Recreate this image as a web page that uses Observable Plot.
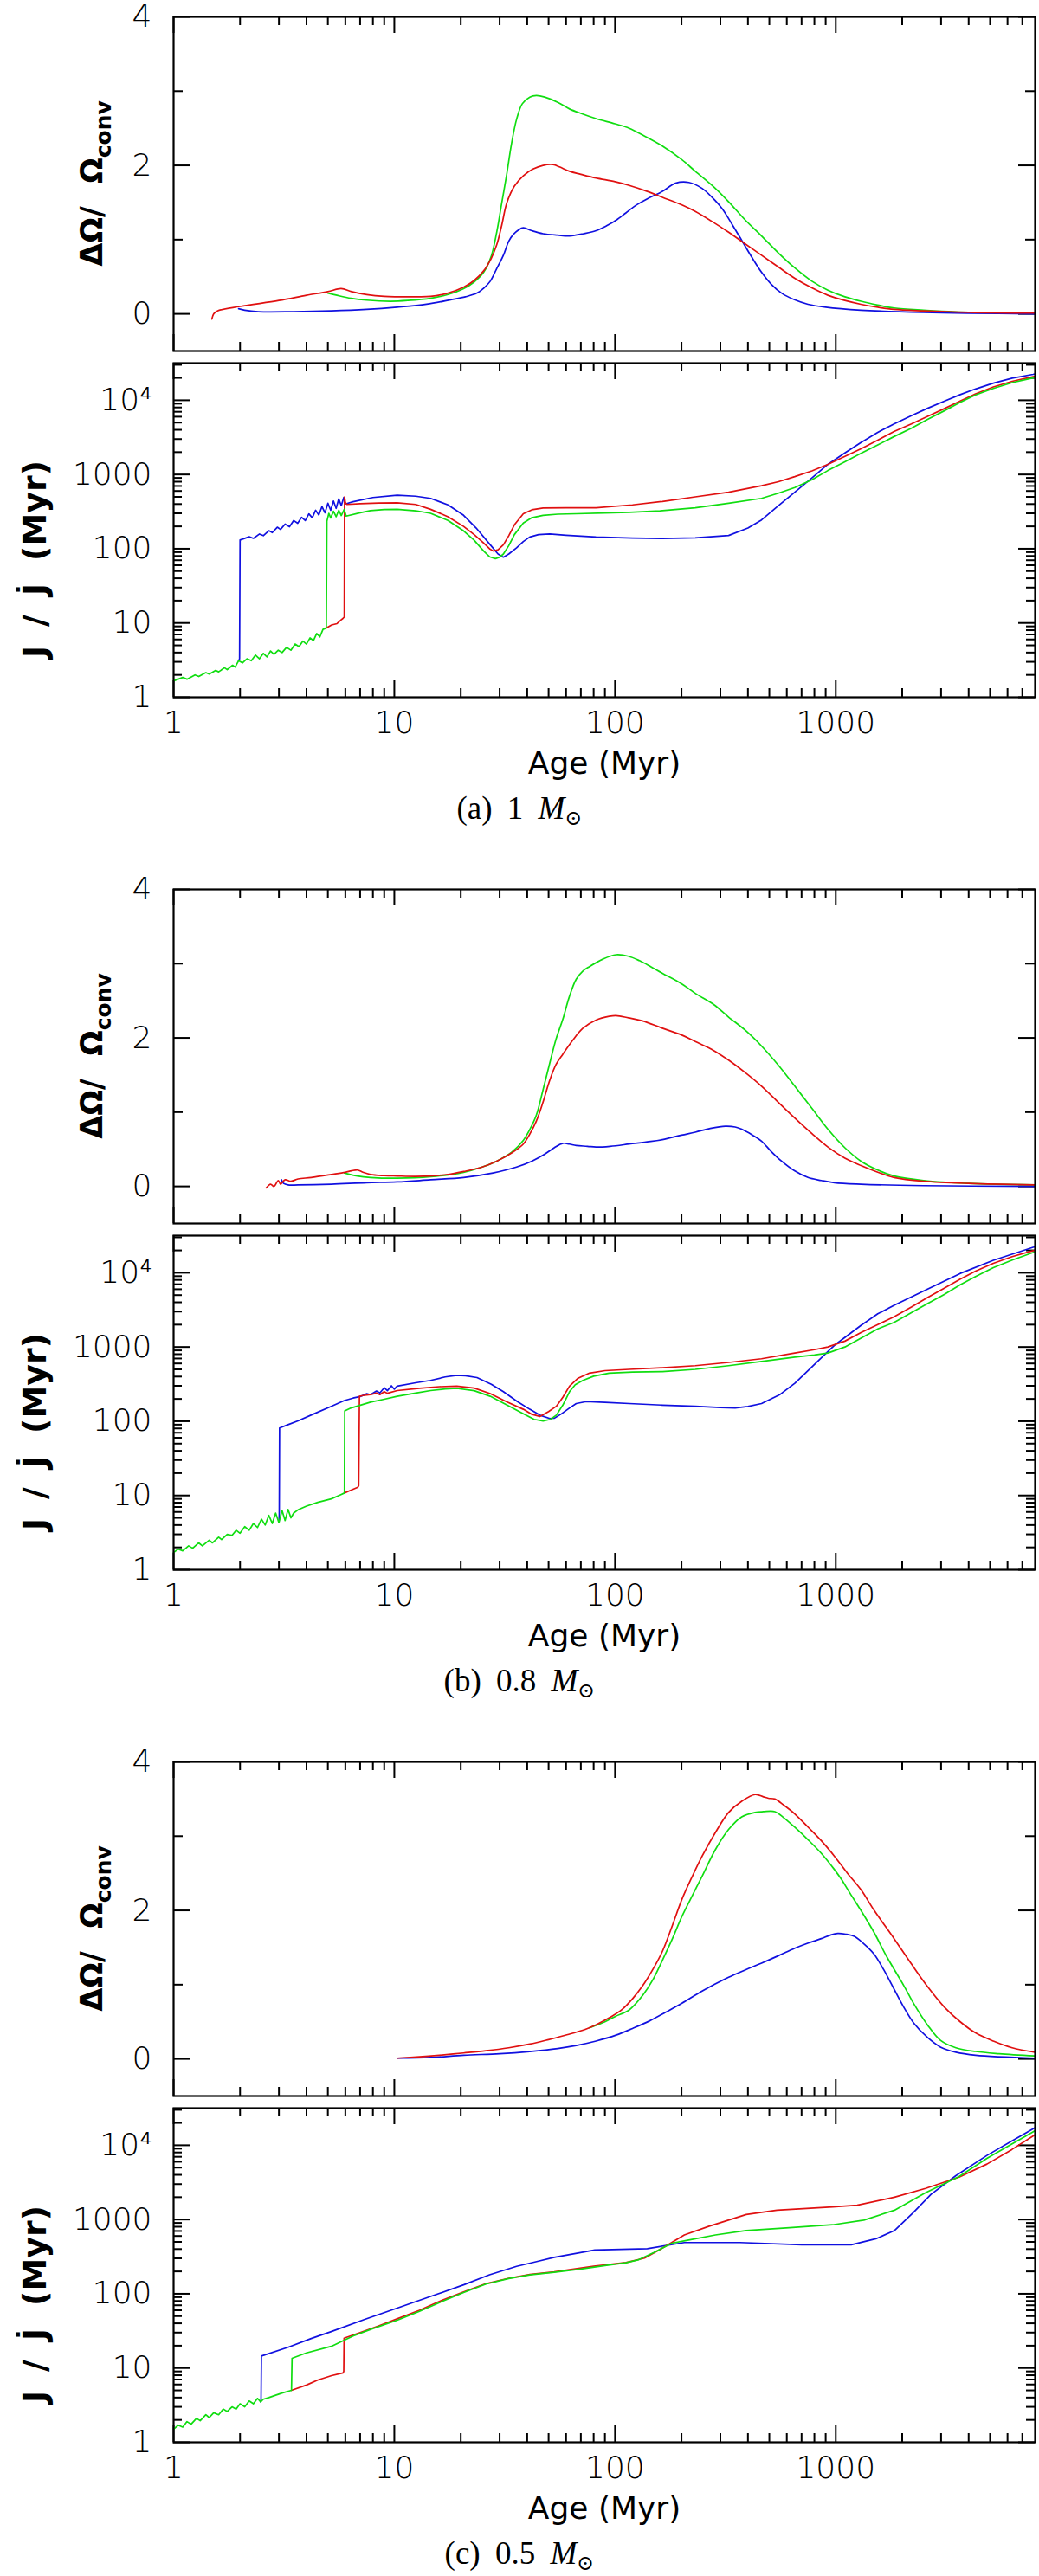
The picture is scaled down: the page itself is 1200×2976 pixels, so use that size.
<!DOCTYPE html>
<html>
<head>
<meta charset="utf-8">
<script src="https://cdn.jsdelivr.net/npm/d3@7"></script>
<script src="https://cdn.jsdelivr.net/npm/@observablehq/plot@0.6"></script>
<style>
  body { margin: 0; background: #fff; width: 1200px; }
  .caption {
    height: 103px; box-sizing: border-box; padding-top: 10px;
    text-align: center; color: #000;
    font-family: "Liberation Serif", "DejaVu Serif", serif;
    font-size: 37px; line-height: 37px; word-spacing: 8px;
  }
  .caption sub { font-size: 24px; vertical-align: -7px; line-height: 0; }
</style>
</head>
<body>
<div id="chart"></div>
<script>
// tick positions and labels
const xMajor = [1, 10, 100, 1000];
const xMinor = [2, 3, 4, 5, 6, 7, 8, 9, 20, 30, 40, 50, 60, 70, 80, 90,
  200, 300, 400, 500, 600, 700, 800, 900, 2000, 3000, 4000, 5000, 6000, 7000];
const xLabels = ["1", "10", "100", "1000"];
const dwMajor = [0, 2, 4];
const dwMinor = [1, 3];
const dwLabels = ["0", "2", "4"];
const jMajor = [1, 10, 100, 1000, 10000];
const jMinor = [2, 3, 4, 5, 6, 7, 8, 9, 20, 30, 40, 50, 60, 70, 80, 90,
  200, 300, 400, 500, 600, 700, 800, 900, 2000, 3000, 4000, 5000, 6000, 7000, 8000, 9000, 20000, 30000];
const jLabels = ["1", "10", "100", "1000", "10⁴"];
const captions = ["(a) 1", "(b) 0.8", "(c) 0.5"];

// (a) 1 Msun : [age Myr, dOmega/Omega_conv]
const aDwRed = [[1.49,-0.07],[1.52,0.0],[1.58,0.04],[2.0,0.1],[3.0,0.18],[4.0,0.25],[5.0,0.30],[5.74,0.34],[6.4,0.30],[7.5,0.26],[9,0.235],[10.3,0.23],[12.5,0.23],[14.6,0.235],[17.5,0.28],[20.6,0.36],[23,0.45],[25.4,0.58],[27.5,0.75],[29.1,0.93],[30.7,1.2],[32.3,1.49],[35,1.72],[38.4,1.86],[42.5,1.95],[47.2,2.0],[52.4,2.01],[56,1.98],[62.2,1.92],[70,1.88],[82,1.83],[100,1.78],[116,1.73],[140,1.65],[164,1.57],[200,1.47],[231,1.38],[280,1.23],[327,1.10],[390,0.94],[461,0.79],[550,0.63],[652,0.48],[780,0.35],[921,0.25],[1100,0.18],[1300,0.13],[1550,0.09],[1837,0.06],[2500,0.04],[4000,0.02],[8000,0.01]];
const aDwGreen = [[5.0,0.28],[5.5,0.25],[6.37,0.21],[7.5,0.185],[9.6,0.17],[11.5,0.18],[14.6,0.21],[17.5,0.26],[20.6,0.34],[23,0.43],[25.4,0.56],[27.5,0.78],[29.1,1.10],[30.7,1.5],[32.3,1.88],[34,2.3],[35.8,2.62],[38,2.83],[41.1,2.92],[44,2.94],[48,2.92],[55,2.85],[62.2,2.76],[70,2.70],[82,2.63],[100,2.56],[116,2.50],[135,2.40],[164,2.26],[200,2.08],[231,1.92],[280,1.71],[327,1.51],[390,1.26],[461,1.05],[550,0.82],[652,0.62],[780,0.44],[921,0.32],[1100,0.23],[1300,0.17],[1550,0.12],[1837,0.08],[2500,0.05],[4000,0.02],[8000,0.01]];
const aDwBlue = [[1.97,0.07],[2.1,0.05],[2.42,0.03],[3.5,0.03],[5.18,0.04],[7.5,0.06],[10.3,0.09],[14,0.13],[18,0.19],[21,0.23],[23.7,0.28],[25.5,0.35],[27.2,0.44],[29,0.6],[31.2,0.79],[33,0.98],[34.6,1.07],[36.5,1.13],[38.4,1.16],[42,1.12],[47.2,1.08],[55,1.06],[62.2,1.05],[72,1.08],[82,1.12],[92,1.19],[101,1.26],[112,1.36],[124,1.46],[140,1.55],[164,1.65],[188,1.76],[216,1.77],[248,1.69],[275,1.57],[305,1.42],[340,1.20],[375,0.99],[415,0.77],[461,0.56],[510,0.40],[568,0.28],[650,0.19],[748,0.13],[900,0.09],[1300,0.05],[2500,0.02],[8000,0.0]];

// (a) 1 Msun : [age Myr, J/Jdot Myr]
const aJGreen = [[1.0,1.66],[1.1,1.85],[1.15,1.75],[1.25,2.0],[1.3,1.9],[1.4,2.15],[1.45,2.05],[1.55,2.3],[1.6,2.2],[1.7,2.5],[1.75,2.35],[1.85,2.7],[1.9,2.55],[1.97,3.1],[2.05,2.9],[2.15,3.3],[2.25,3.1],[2.35,3.7],[2.45,3.3],[2.55,3.9],[2.65,3.5],[2.75,4.2],[2.85,3.8],[2.98,4.3],[3.1,4.0],[3.25,4.7],[3.4,4.3],[3.55,5.2],[3.7,4.8],[3.85,5.7],[4.0,5.2],[4.15,6.3],[4.3,5.8],[4.45,7.2],[4.6,6.5],[4.75,8.2],[4.9,8.5],[4.92,8.9],[4.95,235],[5.05,300],[5.15,260],[5.3,320],[5.45,270],[5.6,330],[5.75,280],[5.93,340],[6.05,275],[7,305],[7.8,326],[9,338],[10.3,340],[12.5,325],[14.6,300],[17.5,240],[20.6,174],[23,130],[25.4,93],[27,78],[28.7,73.5],[30,77],[31.2,85],[33,110],[35,155],[38.4,222],[42,262],[47.2,282],[55,292],[66.7,296],[90,303],[116,310],[160,325],[231,357],[327,410],[461,477],[550,560],[652,668],[780,850],[921,1130],[1100,1480],[1300,1920],[1550,2500],[1837,3240],[2200,4200],[2595,5500],[3100,7200],[3664,9400],[4300,11800],[5176,14400],[6300,17300],[7830,20000],[8000,20300]];
const aJRed = [[4.9,8.5],[5.2,9.4],[5.5,9.8],[5.74,11.0],[5.85,11.5],[5.93,12],[5.95,500],[6.0,420],[6.1,395],[7,405],[8.5,412],[10.3,415],[12.5,395],[14.6,340],[17.5,270],[20.6,200],[23,155],[25.4,119],[27,100],[28.1,93],[29.5,97],[31.2,113],[33,150],[35,210],[38.4,296],[42,335],[47.2,353],[60,357],[82,357],[120,390],[164,433],[231,500],[327,578],[461,705],[550,800],[652,935],[780,1120],[921,1370],[1100,1750],[1300,2220],[1550,2900],[1837,3790],[2200,4800],[2595,6040],[3100,7700],[3664,9800],[4300,12200],[5176,15100],[6300,18000],[7830,20800],[8000,21100]];
const aJBlue = [[1.97,3.1],[1.99,3.3],[2.0,131],[2.2,145],[2.3,138],[2.45,158],[2.55,150],[2.7,175],[2.8,165],[2.95,195],[3.05,182],[3.2,215],[3.35,198],[3.5,240],[3.65,220],[3.8,265],[3.95,240],[4.1,295],[4.25,262],[4.4,330],[4.55,285],[4.7,370],[4.85,305],[5.0,410],[5.15,330],[5.3,440],[5.45,350],[5.6,470],[5.75,380],[5.9,490],[6.0,400],[6.5,430],[8,490],[10.3,525],[12.5,510],[14.6,477],[17.5,390],[20.6,282],[23.5,190],[27.2,113],[29.5,85],[31.2,77],[33,85],[35.8,103],[38.4,125],[41.1,144],[45,155],[50.6,158],[60,152],[82,144],[120,139],[164,137],[231,140],[327,151],[400,190],[461,244],[550,380],[652,578],[780,900],[921,1370],[1100,1950],[1300,2690],[1550,3700],[1837,4790],[2200,6200],[2595,7750],[3100,9700],[3664,11900],[4300,14200],[5176,17000],[6300,19800],[7830,22300],[8000,22600]];

// (b) 0.8 Msun
const bDwRed = [[2.63,-0.02],[2.75,0.03],[2.85,0.0],[2.98,0.08],[3.05,0.03],[3.2,0.09],[3.4,0.07],[3.66,0.10],[4.2,0.12],[5.18,0.16],[6.0,0.19],[6.4,0.21],[6.83,0.22],[7.2,0.19],[7.8,0.16],[9,0.145],[10.3,0.14],[12.5,0.135],[14.6,0.14],[17.5,0.16],[20.6,0.20],[25,0.26],[29.1,0.34],[34,0.45],[38.4,0.57],[41,0.70],[44,0.88],[47,1.12],[50.6,1.43],[54,1.64],[58,1.78],[64,1.96],[71.5,2.13],[82,2.24],[94,2.29],[101,2.30],[115,2.27],[133,2.23],[164,2.13],[200,2.04],[231,1.95],[280,1.83],[327,1.70],[390,1.53],[461,1.35],[550,1.13],[652,0.92],[780,0.71],[921,0.53],[1100,0.38],[1300,0.28],[1550,0.19],[1837,0.12],[2500,0.07],[4000,0.04],[8000,0.02]];
const bDwGreen = [[5.94,0.18],[6.8,0.14],[7.8,0.12],[10.3,0.11],[14.6,0.13],[20.6,0.19],[25,0.26],[29.1,0.34],[34,0.46],[38.4,0.62],[41,0.76],[44,0.96],[47,1.28],[50.6,1.66],[54,1.98],[58,2.25],[62,2.55],[66.7,2.79],[71.5,2.90],[76.6,2.96],[88,3.06],[101,3.12],[115,3.10],[129,3.04],[145,2.96],[164,2.87],[200,2.73],[231,2.60],[280,2.45],[327,2.28],[390,2.10],[461,1.89],[550,1.63],[652,1.35],[780,1.05],[921,0.77],[1100,0.52],[1300,0.34],[1550,0.22],[1837,0.14],[2500,0.08],[4000,0.04],[8000,0.02]];
const bDwBlue = [[3.08,0.09],[3.15,0.04],[3.3,0.02],[3.66,0.02],[5.18,0.03],[7.5,0.05],[10.3,0.06],[14.6,0.09],[20.6,0.12],[28,0.18],[35.8,0.26],[42,0.34],[47.2,0.42],[53,0.52],[58,0.58],[62,0.57],[66.7,0.55],[75,0.54],[82,0.53],[95,0.54],[116,0.57],[140,0.60],[164,0.63],[200,0.69],[231,0.73],[270,0.78],[316,0.81],[350,0.80],[375,0.77],[420,0.69],[461,0.61],[510,0.47],[568,0.34],[650,0.21],[748,0.12],[860,0.08],[986,0.05],[1300,0.03],[2500,0.01],[8000,0.0]];

const bJGreen = [[1.0,1.71],[1.05,1.9],[1.1,1.8],[1.17,2.1],[1.22,1.95],[1.3,2.3],[1.35,2.1],[1.45,2.5],[1.5,2.3],[1.6,2.75],[1.65,2.55],[1.75,3.0],[1.84,2.9],[1.92,3.4],[2.0,3.1],[2.1,3.8],[2.2,3.4],[2.3,4.2],[2.4,3.7],[2.5,4.8],[2.6,4.0],[2.7,5.4],[2.8,4.2],[2.9,5.8],[3.0,4.3],[3.1,6.3],[3.2,4.6],[3.3,6.5],[3.4,5.0],[3.5,5.8],[3.66,6.4],[4.0,7.2],[4.5,8.1],[5.18,9.0],[5.7,10.2],[5.94,10.8],[5.96,138],[6.37,151],[7.8,181],[9,198],[10.3,217],[12.5,240],[14.6,259],[17,272],[19.2,277],[23,258],[27.2,217],[32,168],[38.4,126],[43,106],[47.2,101],[51,106],[54.2,121],[58,165],[62.2,250],[66,310],[71.5,355],[80,405],[94,445],[120,460],[164,466],[231,500],[327,560],[461,640],[652,729],[800,780],[921,830],[1100,1000],[1300,1310],[1550,1750],[1837,2140],[2200,2900],[2595,3820],[3100,5100],[3664,6900],[4300,8900],[5176,11700],[6300,14800],[7830,18700],[8000,19000]];
const bJRed = [[5.94,10.8],[6.37,11.8],[6.83,12.9],[6.9,13.5],[6.95,217],[7.2,222],[7.8,228],[8.3,240],[8.6,228],[9,250],[9.3,238],[10.3,259],[13,278],[16,292],[19.2,297],[23,280],[27.2,236],[32,185],[38.4,145],[42,124],[45.6,116],[50,135],[54.2,159],[58,210],[62.2,297],[68,380],[76.6,445],[90,480],[116,500],[164,525],[231,560],[327,620],[461,695],[652,830],[800,920],[921,1000],[1100,1200],[1300,1560],[1550,2000],[1837,2560],[2200,3450],[2595,4600],[3100,6200],[3664,8200],[4300,10500],[5176,13400],[6300,16500],[7830,19800],[8000,20200]];
const bJBlue = [[3.0,4.3],[3.01,5.5],[3.02,81],[3.3,90],[3.66,101],[4.3,125],[5.18,159],[5.94,190],[6.5,205],[7.0,215],[7.5,235],[7.8,228],[8.3,255],[8.6,240],[9.0,283],[9.3,258],[9.7,300],[10.0,270],[10.3,297],[12.5,330],[14.6,355],[17,395],[19.2,415],[21,410],[23.7,387],[27.5,315],[31.2,250],[36,185],[41.1,145],[45.6,121],[50.6,109],[53,110],[57,125],[62,150],[66.7,173],[74,184],[90,180],[116,173],[164,165],[231,159],[300,153],[350,151],[400,158],[461,173],[560,230],[652,324],[780,540],[921,870],[1000,1090],[1300,1950],[1550,2800],[1837,3640],[2595,6000],[3664,9800],[5176,14700],[7830,22000],[8000,22300]];

// (c) 0.5 Msun
const cDwRed = [[10.3,0.01],[13,0.03],[16,0.05],[20.6,0.08],[26,0.11],[33,0.15],[41.1,0.20],[50,0.26],[58,0.31],[66.7,0.36],[75,0.41],[82,0.46],[95,0.56],[108,0.67],[120,0.81],[133,0.98],[148,1.2],[164,1.45],[182,1.8],[201,2.15],[224,2.46],[248,2.73],[285,3.05],[327,3.32],[375,3.47],[431,3.56],[470,3.53],[495,3.51],[530,3.50],[580,3.42],[652,3.30],[750,3.12],[859,2.94],[986,2.73],[1130,2.50],[1300,2.28],[1493,2.0],[1837,1.62],[2200,1.28],[2595,0.98],[3100,0.70],[3664,0.50],[4300,0.35],[5176,0.24],[6300,0.15],[8000,0.09]];
const cDwGreen = [[76.6,0.42],[90,0.50],[100,0.57],[116,0.66],[133,0.85],[148,1.06],[164,1.33],[182,1.62],[201,1.92],[224,2.2],[248,2.46],[285,2.82],[327,3.09],[375,3.26],[431,3.32],[470,3.33],[530,3.33],[580,3.25],[652,3.12],[750,2.95],[859,2.77],[986,2.55],[1060,2.42],[1150,2.25],[1300,2.0],[1493,1.7],[1700,1.38],[2040,0.98],[2260,0.74],[2600,0.46],[2980,0.25],[3500,0.15],[4300,0.10],[5500,0.07],[8000,0.04]];
const cDwBlue = [[10.3,0.01],[14.6,0.02],[20.6,0.05],[30,0.07],[41.1,0.10],[55,0.14],[66.7,0.18],[82,0.24],[101,0.32],[120,0.41],[143,0.51],[170,0.63],[201,0.75],[250,0.92],[327,1.10],[390,1.20],[461,1.29],[550,1.39],[652,1.49],[750,1.56],[859,1.62],[950,1.67],[1021,1.69],[1110,1.68],[1213,1.65],[1330,1.56],[1493,1.41],[1650,1.2],[1837,0.94],[2030,0.70],[2260,0.48],[2600,0.29],[2980,0.16],[3500,0.09],[4300,0.05],[8000,0.01]];

const cJGreen = [[1.0,1.5],[1.05,1.7],[1.1,1.6],[1.15,1.9],[1.2,1.75],[1.27,2.1],[1.32,1.95],[1.4,2.35],[1.45,2.15],[1.52,2.5],[1.6,2.35],[1.68,2.8],[1.75,2.6],[1.84,3.0],[1.92,2.8],[2.0,3.3],[2.1,3.0],[2.2,3.6],[2.3,3.3],[2.4,3.9],[2.48,3.5],[2.55,3.8],[2.7,4.0],[2.9,4.3],[3.1,4.6],[3.42,5.0],[3.44,13.5],[4.0,16],[5.18,19.6],[6.5,27],[8,34],[10.3,44],[13,58],[16,76],[20.6,104],[26,135],[33,160],[41.1,180],[53,195],[70,215],[90,240],[112,262],[127,285],[150,360],[181,480],[213,525],[285,620],[393,710],[617,775],[968,850],[1340,980],[1845,1335],[2550,2290],[3620,3800],[4840,6650],[6270,10400],[7850,15200],[8000,15700]];
const cJRed = [[3.42,5.0],[4.0,5.9],[4.51,6.9],[5.2,7.9],[5.86,8.6],[5.9,9.0],[5.92,25.2],[7,30],[8.5,37],[10.3,46],[13,60],[16,79],[20.6,106],[26,137],[33,162],[41.1,182],[53,197],[80,235],[112,263],[136,302],[160,395],[206,620],[267,812],[393,1170],[542,1335],[968,1480],[1250,1560],[1845,2000],[2550,2620],[3620,3720],[4840,5580],[6270,8740],[7850,13400],[8000,13900]];
const cJBlue = [[2.48,3.5],[2.49,3.8],[2.5,14.5],[3.3,19],[4.2,25],[5.18,31],[7.3,45],[10.3,64],[14.6,92],[20.6,132],[27,180],[35.8,234],[45,275],[53,309],[81,389],[140,405],[206,490],[368,490],[701,457],[1175,457],[1520,550],[1850,715],[2240,1230],[2700,2180],[3500,3900],[4840,7300],[6270,11400],[7850,16700],[8000,17300]];

const blue = "#1010e0", red = "#e01010", green = "#10dd10";
const figures = [
  {top: [[aDwGreen, green], [aDwBlue, blue], [aDwRed, red]],
   bottom: [[aJBlue, blue], [aJRed, red], [aJGreen, green]]},
  {top: [[bDwGreen, green], [bDwBlue, blue], [bDwRed, red]],
   bottom: [[bJBlue, blue], [bJRed, red], [bJGreen, green]]},
  {top: [[cDwGreen, green], [cDwBlue, blue], [cDwRed, red]],
   bottom: [[cJBlue, blue], [cJRed, red], [cJGreen, green]]}
];

const W = 1200, ML = 200, MR = 5, FH = 386;
const FW = W - ML - MR;
const tickFont = "'DejaVu Sans', sans-serif";
const labelFont = "'DejaVu Sans', sans-serif";

function panel(series, bottom) {
  const mt = bottom ? 7 : 19, mb = bottom ? 100 : 7;
  const yMajor = bottom ? jMajor : dwMajor;
  const yMinor = bottom ? jMinor : dwMinor;
  const yLabels = bottom ? jLabels : dwLabels;
  const marks = [
    // inward ticks on all four sides
    Plot.tickX(xMajor, {x: d => d, insetTop: FH - 19, strokeWidth: 2}),
    Plot.tickX(xMajor, {x: d => d, insetBottom: FH - 19, strokeWidth: 2}),
    Plot.tickX(xMinor, {x: d => d, insetTop: FH - 10, strokeWidth: 2}),
    Plot.tickX(xMinor, {x: d => d, insetBottom: FH - 10, strokeWidth: 2}),
    Plot.tickY(yMajor, {y: d => d, insetRight: FW - 19, strokeWidth: 2}),
    Plot.tickY(yMajor, {y: d => d, insetLeft: FW - 19, strokeWidth: 2}),
    Plot.tickY(yMinor, {y: d => d, insetRight: FW - (bottom ? 10 : 11), strokeWidth: 2}),
    Plot.tickY(yMinor, {y: d => d, insetLeft: FW - (bottom ? 10 : 11), strokeWidth: 2}),
    Plot.axisY({ticks: yMajor, tickSize: 0, tickPadding: 25, label: null,
      tickFormat: d => yLabels[yMajor.indexOf(d)]})
  ];
  for (const [data, color] of series) {
    marks.push(Plot.line(data, {x: d => d[0], y: d => d[1], stroke: color, strokeWidth: 1.7,
      curve: bottom ? "linear" : "catmull-rom"}));
  }
  marks.push(Plot.frame({stroke: "black", strokeWidth: 2.2}));
  if (bottom) {
    marks.push(Plot.axisX({ticks: xMajor, tickSize: 0, tickPadding: 16, label: null,
      tickFormat: d => xLabels[xMajor.indexOf(d)]}));
    marks.push(Plot.text(["Age (Myr)"], {text: d => d, frameAnchor: "bottom", dy: 77,
      lineAnchor: "middle", fontSize: 36, fontFamily: labelFont, fontWeight: "normal"}));
  }
  const chart = Plot.plot({
    width: W,
    height: mt + FH + mb,
    marginLeft: ML, marginRight: MR, marginTop: mt, marginBottom: mb,
    x: {type: "log", domain: [1, 8000], axis: bottom ? undefined : null, label: null},
    y: bottom ? {type: "log", domain: [1, 31623], label: null} : {domain: [-0.5, 4], label: null},
    style: {fontFamily: tickFont, fontSize: "36px", fontWeight: 200, color: "black", background: "white"},
    marks
  });

  // rotated y label with subscript / dot
  const cy = mt + FH / 2 + (bottom ? 34 : 0);
  const lab = d3.select(chart).append("text")
    .attr("transform", `translate(${bottom ? 53 : 118},${cy}) rotate(-90)`)
    .attr("text-anchor", "middle")
    .attr("font-family", labelFont)
    .attr("font-weight", "bold")
    .attr("font-size", bottom ? 38 : 35)
    .attr("fill", "black");
  if (bottom) {
    lab.append("tspan").attr("letter-spacing", 22).text("J/J\u0307");
    lab.append("tspan").attr("dx", 4).text("(Myr)");
  } else {
    lab.append("tspan").text("ΔΩ/");
    lab.append("tspan").attr("dx", 26).text("Ω");
    lab.append("tspan").attr("font-size", 25).attr("dy", 10).text("conv");
  }
  return chart;
}

const root = d3.select("#chart");
figures.forEach((f, i) => {
  root.append(() => panel(f.top, false));
  root.append(() => panel(f.bottom, true));
  root.append("div").attr("class", "caption")
    .html(`${captions[i]} <i>M</i><sub>⊙</sub>`);
});
</script>
</body>
</html>
